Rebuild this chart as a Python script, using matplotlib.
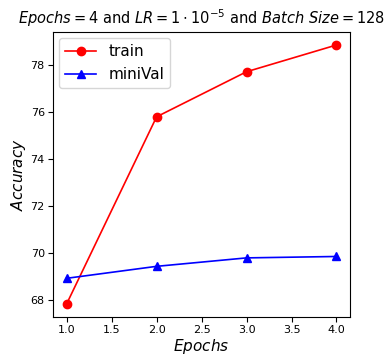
import matplotlib
matplotlib.use("Agg")
import matplotlib.pyplot as plt

epochs = [1, 2, 3, 4]
train = [67.83, 75.8, 77.72, 78.86]
minival = [68.92, 69.43, 69.79, 69.85]

fig = plt.figure(figsize=(3.88, 3.56), dpi=100)
ax = fig.add_axes([0.137, 0.110, 0.765, 0.800])
ax.plot(epochs, train, color='red', marker='o', markersize=6, linewidth=1.2, label='train')
ax.plot(epochs, minival, color='blue', marker='^', markersize=6, linewidth=1.2, label='miniVal')
ax.set_xlabel('$Epochs$', fontsize=11, labelpad=1)
ax.set_ylabel('$Accuracy$', fontsize=11, labelpad=2)
ax.set_title(r'$Epochs = 4$ and $LR = 1 \cdot 10^{-5}$ and $Batch\ Size = 128$', fontsize=10.5)
ax.tick_params(labelsize=8, pad=2.5)
ax.legend(loc='upper left', fontsize=11, borderaxespad=0.4)
fig.savefig('out.png', dpi=100)
